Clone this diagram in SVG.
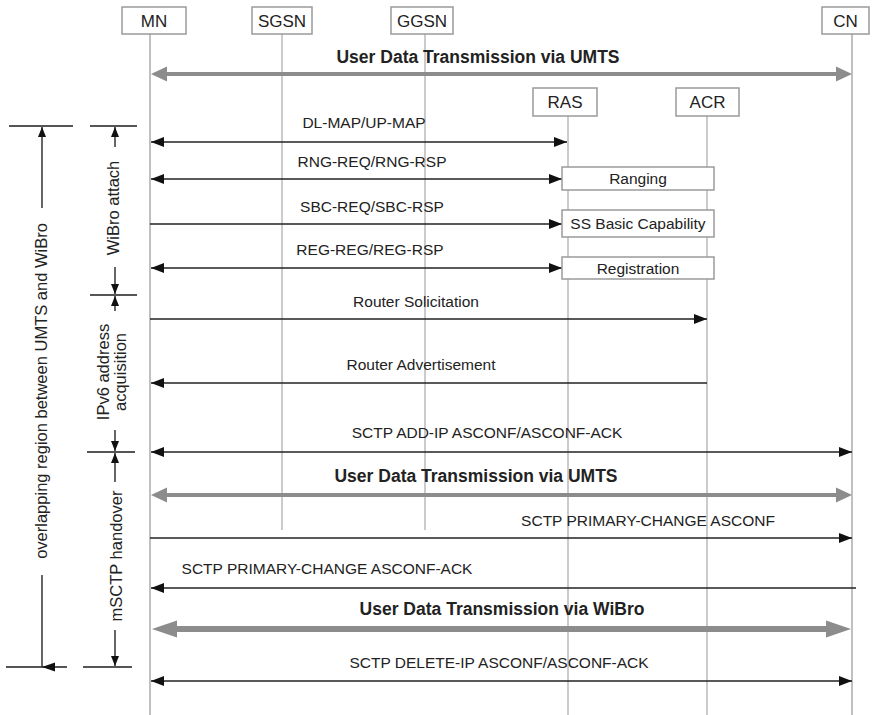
<svg xmlns="http://www.w3.org/2000/svg" width="878" height="715" viewBox="0 0 878 715">
  <defs>
    <style>
      .lbl { font-family: "Liberation Sans", Arial, sans-serif; font-size: 15.5px; fill: #222; text-anchor: middle; }
      .big { font-family: "Liberation Sans", Arial, sans-serif; font-size: 17.5px; font-weight: bold; fill: #222; text-anchor: middle; }
      .hdr { font-family: "Liberation Sans", Arial, sans-serif; font-size: 17px; fill: #222; text-anchor: middle; }
      .side { font-family: "Liberation Sans", Arial, sans-serif; font-size: 16.5px; fill: #222; text-anchor: middle; }
      .box { fill: #fff; stroke: #9a9a9a; stroke-width: 1.5; }
      .life { stroke: #a8a8a8; stroke-width: 1.2; fill: none; }
      .life2 { stroke: #c0c0c0; stroke-width: 2; fill: none; }
      .msg { stroke: #222; stroke-width: 1.5; fill: none; }
      .uni { marker-end: url(#ah); }
      .bi { marker-start: url(#ah); marker-end: url(#ah); }
      .gray { fill: #8c8c8c; }
      .brk { stroke: #333; stroke-width: 1.5; fill: none; }
      .tick { stroke: #555; stroke-width: 2; fill: none; }
    </style>
    <marker id="ah" markerUnits="userSpaceOnUse" markerWidth="13" markerHeight="10" refX="13" refY="5" orient="auto-start-reverse">
      <path d="M0,0 L13,5 L0,10 z" fill="#111"/>
    </marker>
    <marker id="sh" markerUnits="userSpaceOnUse" markerWidth="10" markerHeight="8" refX="10" refY="4" orient="auto">
      <path d="M0,0 L10,4 L0,8 z" fill="#111"/>
    </marker>
  </defs>

  <rect width="878" height="715" fill="#fff"/>

  <!-- lifelines -->
  <g id="lifelines">
    <line class="life2" x1="150" y1="34" x2="150" y2="715"/>
    <line class="life" x1="282" y1="34" x2="282" y2="530"/>
    <line class="life" x1="425" y1="34" x2="425" y2="530"/>
    <line class="life" x1="568" y1="116" x2="568" y2="715"/>
    <line class="life" x1="707" y1="116" x2="707" y2="715"/>
    <line class="life2" x1="852" y1="34" x2="852" y2="715"/>
  </g>

  <!-- phase brackets on the left -->
  <g id="phases">
    <line class="tick" x1="9" y1="126" x2="73" y2="126"/>
    <line class="tick" x1="6" y1="667" x2="67" y2="667"/>
    <line class="brk" x1="42" y1="208" x2="42" y2="127" marker-end="url(#sh)"/>
    <line class="brk" x1="42" y1="575" x2="42" y2="667"/>
    <polygon points="42,667 55,662.5 55,671.5" fill="#111"/>
    <text class="side" transform="translate(46.5,391) rotate(-90)">overlapping region between UMTS and WiBro</text>

    <line class="tick" x1="90" y1="126" x2="137" y2="126"/>
    <line class="tick" x1="90" y1="295" x2="137" y2="295"/>
    <line class="tick" x1="87" y1="452" x2="135" y2="452"/>
    <line class="tick" x1="83" y1="667" x2="132" y2="667"/>

    <line class="brk" x1="115" y1="147" x2="115" y2="127" marker-end="url(#sh)"/>
    <text class="side" transform="translate(118.5,208) rotate(-90)">WiBro attach</text>
    <line class="brk" x1="115" y1="267" x2="115" y2="294" marker-end="url(#sh)"/>

    <line class="brk" x1="115" y1="311" x2="115" y2="296" marker-end="url(#sh)"/>
    <text class="side" transform="translate(108.5,372) rotate(-90)">IPv6 address</text>
    <text class="side" transform="translate(126,372) rotate(-90)">acquisition</text>
    <line class="brk" x1="115" y1="430" x2="115" y2="451" marker-end="url(#sh)"/>

    <line class="brk" x1="115" y1="482" x2="115" y2="453" marker-end="url(#sh)"/>
    <text class="side" transform="translate(122,556) rotate(-90)">mSCTP handover</text>
    <line class="brk" x1="115" y1="630" x2="115" y2="666" marker-end="url(#sh)"/>
  </g>

  <!-- messages -->
  <g id="connectors">
    <!-- user data via UMTS (initial) -->
    <line x1="165" y1="74" x2="837" y2="74" stroke="#8c8c8c" stroke-width="4"/>
    <polygon class="gray" points="151,74 167,66.5 167,81.5"/>
    <polygon class="gray" points="852,74 836,66.5 836,81.5"/>
    <text class="big" x="478" y="63">User Data Transmission via UMTS</text>

    <line class="msg bi" x1="151" y1="142" x2="567" y2="142"/>
    <text class="lbl" x="364" y="128">DL-MAP/UP-MAP</text>

    <line class="msg bi" x1="151" y1="179" x2="562" y2="179"/>
    <text class="lbl" x="372" y="167">RNG-REQ/RNG-RSP</text>

    <line class="msg uni" x1="150" y1="224" x2="562" y2="224"/>
    <text class="lbl" x="372" y="212">SBC-REQ/SBC-RSP</text>

    <line class="msg bi" x1="151" y1="268" x2="562" y2="268"/>
    <text class="lbl" x="370" y="255">REG-REG/REG-RSP</text>

    <line class="msg uni" x1="150" y1="319" x2="707" y2="319"/>
    <text class="lbl" x="416" y="307">Router Solicitation</text>

    <line class="msg uni" x1="707" y1="383" x2="151" y2="383"/>
    <text class="lbl" x="421" y="370">Router Advertisement</text>

    <line class="msg bi" x1="151" y1="452" x2="852" y2="452"/>
    <text class="lbl" x="487" y="438">SCTP ADD-IP ASCONF/ASCONF-ACK</text>

    <!-- user data via UMTS (during handover) -->
    <line x1="165" y1="495" x2="837" y2="495" stroke="#8c8c8c" stroke-width="4"/>
    <polygon class="gray" points="151,495 167,487.5 167,502.5"/>
    <polygon class="gray" points="852,495 836,487.5 836,502.5"/>
    <text class="big" x="476" y="482">User Data Transmission via UMTS</text>

    <line class="msg uni" x1="150" y1="538" x2="852" y2="538"/>
    <text class="lbl" x="648" y="526">SCTP PRIMARY-CHANGE ASCONF</text>

    <line class="msg uni" x1="856" y1="588" x2="151" y2="588"/>
    <text class="lbl" x="327" y="574">SCTP PRIMARY-CHANGE ASCONF-ACK</text>

    <!-- user data via WiBro -->
    <line x1="172" y1="629" x2="830" y2="629" stroke="#8c8c8c" stroke-width="6"/>
    <polygon class="gray" points="152,629 177,620.5 177,637.5"/>
    <polygon class="gray" points="851,629 826,620.5 826,637.5"/>
    <text class="big" x="502" y="615">User Data Transmission via WiBro</text>

    <line class="msg bi" x1="151" y1="681" x2="852" y2="681"/>
    <text class="lbl" x="499" y="668">SCTP DELETE-IP ASCONF/ASCONF-ACK</text>
  </g>

  <!-- procedures between RAS and ACR -->
  <g id="ranging">
    <rect class="box" x="562" y="167" width="152" height="23"/>
    <text class="lbl" x="638" y="184">Ranging</text>
  </g>
  <g id="ss-basic-capability">
    <rect class="box" x="562" y="210" width="152" height="27"/>
    <text class="lbl" x="638" y="229">SS Basic Capability</text>
  </g>
  <g id="registration">
    <rect class="box" x="562" y="257" width="152" height="22"/>
    <text class="lbl" x="638" y="274">Registration</text>
  </g>

  <!-- entities -->
  <g id="mn">
    <rect class="box" x="122" y="7" width="64" height="27"/>
    <text class="hdr" x="154" y="27">MN</text>
  </g>
  <g id="sgsn">
    <rect class="box" x="252" y="7" width="60" height="27"/>
    <text class="hdr" x="282" y="27">SGSN</text>
  </g>
  <g id="ggsn">
    <rect class="box" x="391" y="7" width="62" height="27"/>
    <text class="hdr" x="422" y="27">GGSN</text>
  </g>
  <g id="cn">
    <rect class="box" x="822" y="7" width="47" height="27"/>
    <text class="hdr" x="845.5" y="27">CN</text>
  </g>
  <g id="ras">
    <rect class="box" x="533" y="88" width="64" height="28"/>
    <text class="hdr" x="565" y="108">RAS</text>
  </g>
  <g id="acr">
    <rect class="box" x="676" y="88" width="63" height="28"/>
    <text class="hdr" x="707.5" y="108">ACR</text>
  </g>
</svg>
